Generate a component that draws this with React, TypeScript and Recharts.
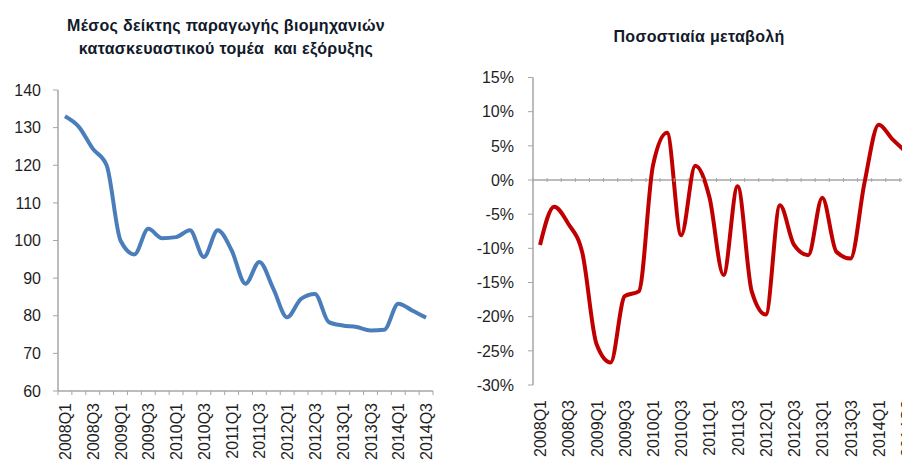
import React from "react";
import { LineChart, Line, XAxis, YAxis, ReferenceLine } from "recharts";

// quarters on the category axis
const quarters = [
  "2008Q1", "2008Q2", "2008Q3", "2008Q4",
  "2009Q1", "2009Q2", "2009Q3", "2009Q4",
  "2010Q1", "2010Q2", "2010Q3", "2010Q4",
  "2011Q1", "2011Q2", "2011Q3", "2011Q4",
  "2012Q1", "2012Q2", "2012Q3", "2012Q4",
  "2013Q1", "2013Q2", "2013Q3", "2013Q4",
  "2014Q1", "2014Q2", "2014Q3",
];

// average production index (left panel)
const indexValues = [
  133.0, 130.2, 124.4, 120.0, 100.0, 96.3, 103.1, 100.6, 100.9, 102.7, 95.6,
  102.7, 97.4, 88.5, 94.3, 87.2, 79.6, 84.5, 85.8, 78.3, 77.4, 77.0, 76.1,
  76.3, 83.2, 81.4, 79.5,
];

// % change (right panel)
const changeValues = [
  -9.5, -3.9, -6.4, -10.7, -24.0, -26.7, -17.0, -16.3, 2.1, 6.9, -8.1, 2.1,
  -2.5, -13.9, -0.9, -16.3, -19.7, -3.7, -9.5, -11.0, -2.6, -10.5, -11.5,
  -0.3, 8.1, 5.9, 4.0,
];

const indexTicks = [60, 70, 80, 90, 100, 110, 120, 130, 140];
const changeTicks = [-30, -25, -20, -15, -10, -5, 0, 5, 10, 15];

const indexRows = quarters.map((q, i) => ({ q, v: indexValues[i] }));
const changeRows = quarters.map((q, i) => ({ q, v: changeValues[i] }));

const FONT = "'Liberation Sans', Arial, sans-serif";
const AXIS = "#A6A6A6";
const TEXT = "#1f1f1f";

// rotated quarter label + Excel style tick marks between categories
function QuarterTick(props: any) {
  const { x, y, payload, band, markDy, labelDy, count } = props;
  const i = payload?.index ?? props.index ?? 0;
  const my = y + markDy;
  return (
    <g>
      <line x1={x - band / 2} x2={x - band / 2} y1={my} y2={my + 4} stroke={AXIS} />
      {i === count - 1 && (
        <line x1={x + band / 2} x2={x + band / 2} y1={my} y2={my + 4} stroke={AXIS} />
      )}
      {i % 2 === 0 && (
        <text
          x={0}
          y={0}
          transform={`translate(${x + 6},${y + labelDy}) rotate(-90)`}
          textAnchor="end"
          fontSize={16}
          fontFamily={FONT}
          fill={TEXT}
        >
          {payload.value}
        </text>
      )}
    </g>
  );
}

function IndexChart() {
  const plotW = 375;
  return (
    <LineChart
      width={450}
      height={464}
      data={indexRows}
      margin={{ top: 90, right: 17, left: 8, bottom: 3 }}
    >
      <XAxis
        dataKey="q"
        scale="band"
        interval={0}
        height={70}
        axisLine={{ stroke: AXIS, strokeWidth: 1.5 }}
        tickLine={false}
        tickSize={0}
        tickMargin={0}
        tick={<QuarterTick band={plotW / quarters.length} markDy={0} labelDy={12} count={quarters.length} />}
      />
      <YAxis
        domain={[60, 140]}
        ticks={indexTicks}
        width={50}
        axisLine={{ stroke: AXIS, strokeWidth: 1.5 }}
        tickLine={{ stroke: AXIS }}
        tickSize={5}
        tickMargin={12}
        tick={{ fontSize: 16, fontFamily: FONT, fill: TEXT }}
      />
      <Line
        dataKey="v"
        type="monotone"
        stroke="#4A7EBB"
        strokeWidth={4}
        dot={false}
        activeDot={false}
        isAnimationActive={false}
      />
    </LineChart>
  );
}

function ChangeChart() {
  const plotW = 381;
  const plotH = 310.5;
  return (
    <LineChart
      width={480}
      height={464}
      data={changeRows}
      margin={{ top: 77.5, right: 16, left: 8, bottom: 3 }}
    >
      <XAxis
        dataKey="q"
        scale="band"
        interval={0}
        height={76}
        axisLine={false}
        tickLine={false}
        tickSize={0}
        tickMargin={0}
        tick={
          <QuarterTick
            band={plotW / quarters.length}
            markDy={-plotH * (30 / 45)}
            labelDy={15}
            count={quarters.length}
          />
        }
      />
      <YAxis
        domain={[-30, 15]}
        ticks={changeTicks}
        width={75}
        axisLine={{ stroke: AXIS, strokeWidth: 1.5 }}
        tickLine={{ stroke: AXIS }}
        tickSize={5}
        tickMargin={14}
        tickFormatter={(v) => `${v}%`}
        tick={{ fontSize: 16, fontFamily: FONT, fill: TEXT }}
      />
      <ReferenceLine y={0} stroke={AXIS} strokeWidth={1.5} />
      <Line
        dataKey="v"
        type="monotone"
        stroke="#C00000"
        strokeWidth={4}
        dot={false}
        activeDot={false}
        isAnimationActive={false}
      />
    </LineChart>
  );
}

const titleStyle: React.CSSProperties = {
  position: "absolute",
  fontFamily: FONT,
  fontWeight: "bold",
  fontSize: 16,
  letterSpacing: 0.3,
  lineHeight: "23px",
  color: "#111a2a",
  textAlign: "center",
  whiteSpace: "pre",
};

export default function App() {
  return (
    <div
      style={{
        position: "absolute",
        left: 0,
        top: 0,
        width: 902,
        height: 464,
        overflow: "hidden",
        background: "#fff",
      }}
    >
      <div style={{ ...titleStyle, left: 26, width: 400, top: 14 }}>
        {"Μέσος δείκτης παραγωγής βιομηχανιών\nκατασκευαστικού τομέα  και εξόρυξης"}
      </div>
      <div style={{ ...titleStyle, left: 499, width: 400, top: 25 }}>
        Ποσοστιαία μεταβολή
      </div>
      <div style={{ position: "absolute", left: 0, top: 0 }}>
        <IndexChart />
      </div>
      <div style={{ position: "absolute", left: 450, top: 0 }}>
        <ChangeChart />
      </div>
    </div>
  );
}
